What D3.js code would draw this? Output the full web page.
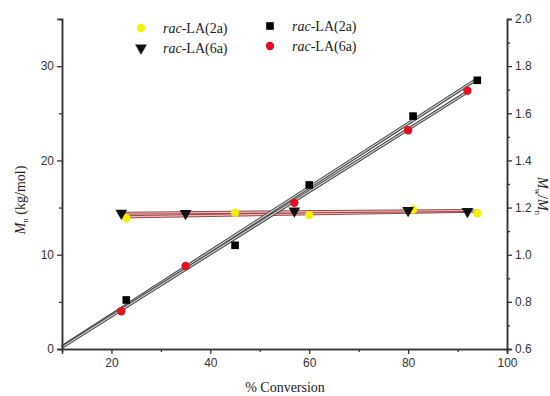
<!DOCTYPE html>
<html>
<head>
<meta charset="utf-8">
<script src="https://cdn.jsdelivr.net/npm/d3@7"></script>
<style>
  body { margin: 0; background: #fff; }
  svg { display: block; }
  .tick text { font-family: "Liberation Sans", Arial, sans-serif; font-size: 12px; fill: #333; }
  .serif { font-family: "Liberation Serif", "Times New Roman", serif; fill: #222; }
</style>
</head>
<body>
<div id="chart"></div>
<script>
const WIDTH = 550;
const HEIGHT = 396;

// rac-LA(2a)
const conversion2a = [23, 45, 60, 81, 94];
const mn2a = [5.2, 11.0, 17.4, 24.7, 28.5];
const pdi2a = [1.155, 1.178, 1.168, 1.192, 1.176];
// rac-LA(6a)
const conversion6a = [22, 35, 57, 80, 92];
const mn6a = [4.0, 8.8, 15.5, 23.2, 27.4];
const pdi6a = [1.176, 1.175, 1.186, 1.188, 1.184];

const xTicks = [20, 40, 60, 80, 100];
const mnTicks = [0, 10, 20, 30];
const pdiTicks = [0.6, 0.8, 1.0, 1.2, 1.4, 1.6, 1.8, 2.0];

const x = d3.scaleLinear().domain([10, 100]).range([62, 507]);
const yMn = d3.scaleLinear().domain([0, 35]).range([349, 19]);
const yPdi = d3.scaleLinear().domain([0.6, 2.0]).range([349, 19]);

const svg = d3.select("#chart").append("svg")
  .attr("width", WIDTH)
  .attr("height", HEIGHT);

// least squares fit, used for the straight lines through each series
function fit(xs, ys) {
  const mx = d3.mean(xs), my = d3.mean(ys);
  let sxy = 0, sxx = 0;
  xs.forEach((v, i) => { sxy += (v - mx) * (ys[i] - my); sxx += (v - mx) * (v - mx); });
  const m = sxy / sxx;
  return { m: m, b: my - m * mx };
}

function drawFit(xs, ys, yScale, x0, x1, dark, light) {
  const f = fit(xs, ys);
  const pts = [[x0, f.m * x0 + f.b], [x1, f.m * x1 + f.b]];
  const line = d3.line().x(d => x(d[0])).y(d => yScale(d[1]));
  svg.append("path").attr("d", line(pts)).attr("stroke", dark).attr("stroke-width", 3.2).attr("fill", "none");
  svg.append("path").attr("d", line(pts)).attr("stroke", light).attr("stroke-width", 1.2).attr("fill", "none");
}

// fit lines
drawFit(conversion2a, pdi2a, yPdi, 22, 94, "#9a4a4a", "#f2b8b8");
drawFit(conversion6a, pdi6a, yPdi, 22, 92, "#9a4a4a", "#f2b8b8");
drawFit(conversion2a, mn2a, yMn, 10, 94, "#444", "#cfcfcf");
drawFit(conversion6a, mn6a, yMn, 10, 92, "#444", "#cfcfcf");

// axes
const xAxis = svg.append("g").attr("transform", "translate(0,349)")
  .call(d3.axisBottom(x).tickValues(xTicks).tickSize(5).tickPadding(4));
svg.append("g").attr("transform", "translate(0,349)")
  .call(d3.axisBottom(x).tickValues([30, 50, 70, 90]).tickSize(3).tickFormat(""));

svg.append("g").attr("transform", "translate(62,0)")
  .call(d3.axisLeft(yMn).tickValues(mnTicks).tickSize(5).tickPadding(3).tickFormat(d3.format("d")));
svg.append("g").attr("transform", "translate(62,0)")
  .call(d3.axisLeft(yMn).tickValues([5, 15, 25, 35]).tickSize(3).tickFormat(""));

svg.append("g").attr("transform", "translate(507,0)")
  .call(d3.axisRight(yPdi).tickValues(pdiTicks).tickSize(5).tickPadding(3).tickFormat(d3.format(".1f")));
svg.append("g").attr("transform", "translate(507,0)")
  .call(d3.axisRight(yPdi).tickValues([0.7, 0.9, 1.1, 1.3, 1.5, 1.7, 1.9]).tickSize(3).tickFormat(""));

svg.selectAll(".domain").attr("stroke", "#333").attr("stroke-width", 1.5);
svg.selectAll(".tick line").attr("stroke", "#333").attr("stroke-width", 1.3);

// markers
const tri = d3.symbol().type(d3.symbolTriangle).size(60);

svg.append("g").selectAll("circle").data(conversion2a).join("circle")
  .attr("cx", d => x(d)).attr("cy", (d, i) => yPdi(pdi2a[i]))
  .attr("r", 4.2).attr("fill", "#f5f000");

svg.append("g").selectAll("path").data(conversion6a).join("path")
  .attr("d", tri)
  .attr("transform", (d, i) => `translate(${x(d)},${yPdi(pdi6a[i])}) rotate(180)`)
  .attr("fill", "#111");

svg.append("g").selectAll("rect").data(conversion2a).join("rect")
  .attr("x", d => x(d) - 3.8).attr("y", (d, i) => yMn(mn2a[i]) - 3.8)
  .attr("width", 7.6).attr("height", 7.6).attr("fill", "#000");

svg.append("g").selectAll("circle").data(conversion6a).join("circle")
  .attr("cx", d => x(d)).attr("cy", (d, i) => yMn(mn6a[i]))
  .attr("r", 4.2).attr("fill", "#e01020");

// legend
const legend = [
  { sx: 141, sy: 28, kind: "yellow", label: "LA(2a)" },
  { sx: 141, sy: 48, kind: "tri", label: "LA(6a)" },
  { sx: 270, sy: 26, kind: "square", label: "LA(2a)" },
  { sx: 270, sy: 46, kind: "red", label: "LA(6a)" }
];
legend.forEach(l => {
  if (l.kind === "yellow") svg.append("circle").attr("cx", l.sx).attr("cy", l.sy).attr("r", 4.2).attr("fill", "#f5f000");
  if (l.kind === "red") svg.append("circle").attr("cx", l.sx).attr("cy", l.sy).attr("r", 4.2).attr("fill", "#e01020");
  if (l.kind === "square") svg.append("rect").attr("x", l.sx - 3.8).attr("y", l.sy - 3.8).attr("width", 7.6).attr("height", 7.6).attr("fill", "#000");
  if (l.kind === "tri") svg.append("path").attr("d", tri).attr("transform", `translate(${l.sx},${l.sy}) rotate(180)`).attr("fill", "#111");
  const t = svg.append("text").attr("class", "serif").attr("x", l.sx + 22).attr("y", l.sy + 5).attr("font-size", 14);
  t.append("tspan").attr("font-style", "italic").text("rac");
  t.append("tspan").text("-" + l.label);
});

// axis titles
svg.append("text").attr("class", "serif").attr("x", 285).attr("y", 392)
  .attr("text-anchor", "middle").attr("font-size", 14).text("% Conversion");

const leftTitle = svg.append("text").attr("class", "serif")
  .attr("transform", "translate(25,200) rotate(-90)")
  .attr("text-anchor", "middle").attr("font-size", 14);
leftTitle.append("tspan").attr("font-style", "italic").text("M");
leftTitle.append("tspan").attr("font-size", 9).attr("dy", 3).text("n");
leftTitle.append("tspan").attr("dy", -3).text(" (kg/mol)");

const rightTitle = svg.append("text").attr("class", "serif")
  .attr("transform", "translate(538,196) rotate(90)")
  .attr("text-anchor", "middle").attr("font-size", 14);
rightTitle.append("tspan").attr("font-style", "italic").text("M");
rightTitle.append("tspan").attr("font-size", 9).attr("dy", 3).text("w");
rightTitle.append("tspan").attr("dy", -3).text("/");
rightTitle.append("tspan").attr("font-style", "italic").text("M");
rightTitle.append("tspan").attr("font-size", 9).attr("dy", 3).text("n");
</script>
</body>
</html>
